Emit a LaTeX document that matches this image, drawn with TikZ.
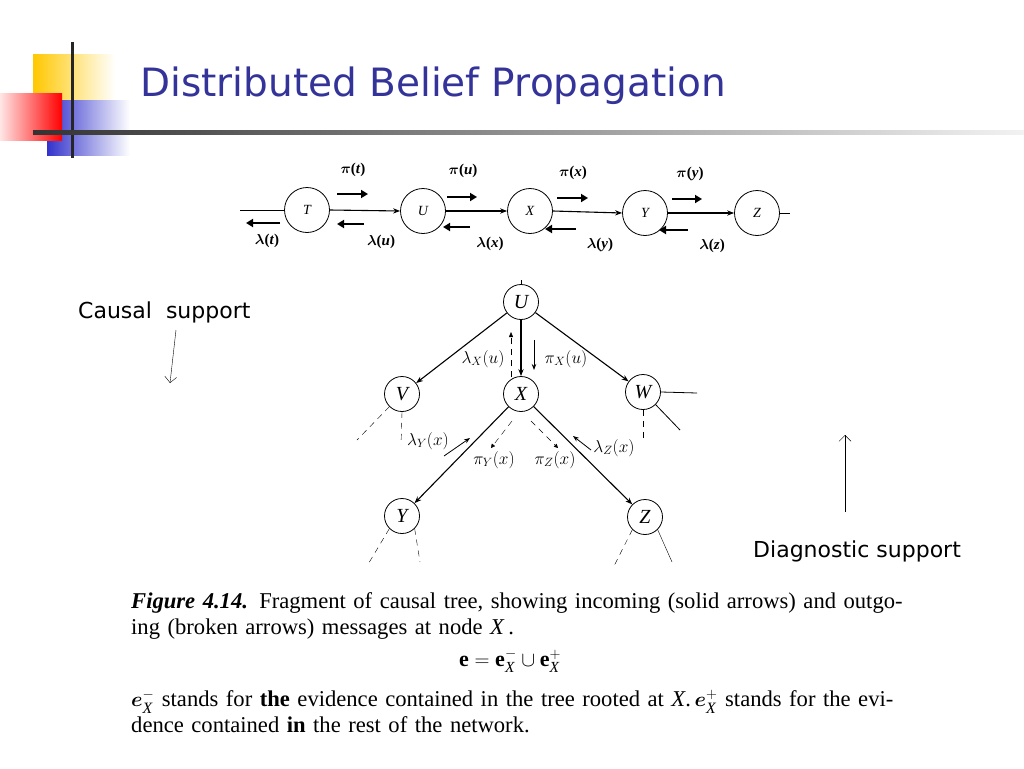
\documentclass[tikz,border=0pt]{standalone}
\usepackage{fontspec}
\usepackage{amsmath}
\setmainfont{Liberation Serif}
\newfontfamily\titlefont{DejaVu Sans}
\usetikzlibrary{arrows.meta,shadings}
\definecolor{titleblue}{RGB}{51,51,153}
\definecolor{logoyellow}{RGB}{255,200,0}
\definecolor{logoblue}{RGB}{51,51,204}
\begin{document}
\begin{tikzpicture}[x=1pt,y=-1pt,
  cnode/.style={circle,draw,thick,minimum size=45pt,inner sep=0pt,font=\itshape\fontsize{14}{14}\selectfont},
  tnode/.style={circle,draw,thick,minimum size=35pt,inner sep=0pt,font=\itshape\fontsize{20}{20}\selectfont},
  edge/.style={semithick,line width=1.1pt,-{Stealth[length=7pt]}},
  msg/.style={line width=2.2pt,-{Triangle[length=7pt,width=8pt]}},
  lab/.style={font=\bfseries\fontsize{15}{15}\selectfont,inner sep=0pt},
  tlab/.style={font=\fontsize{18}{18}\selectfont,inner sep=0pt},
  brk/.style={thin,dash pattern=on 6pt off 5pt},
  side/.style={font=\titlefont\fontsize{22}{22}\selectfont,anchor=west,inner sep=0pt}]
\useasboundingbox (0,0) rectangle (1024,768);
\fill[white] (0,0) rectangle (1024,768);
% logo
\shade[left color=logoyellow,right color=white] (33,55) rectangle (115,105);
\shade[left color=logoblue,right color=white] (47,100) rectangle (130,155);
\shade[left color=red!10,right color=red] (0,93) rectangle (62,140);
\draw[line width=3pt,black!85] (72,42) -- (72,158);
\shade[left color=black!80,right color=black!5] (33,130.5) rectangle (1024,134);
\node[anchor=west,inner sep=0pt,font=\titlefont\fontsize{39}{39}\selectfont,text=titleblue] (title) at (140,86) {Distributed Belief Propagation};
% chain
\node[cnode] (T) at (307,210) {T};
\node[cnode] (U) at (423,211) {U};
\node[cnode] (X) at (530,211) {X};
\node[cnode] (Y) at (645,213) {Y};
\node[cnode] (Z) at (757,213) {Z};
\coordinate (l0) at (240,210); \coordinate (r0) at (790,213);
\draw[thick] (l0) -- (T.west);
\draw[thick] (Z.east) -- (r0);
\draw[edge] (T.east) -- (U.west);
\draw[edge] (U.east) -- (X.west);
\draw[edge] (X.east) -- (Y.west);
\draw[edge] (Y.east) -- (Z.west);
\foreach \a/\b/\y in {337/368/194, 447/477/197, 557/588/198, 672/702/199}
  \draw[msg] (\a,\y) -- (\b,\y);
\foreach \a/\b/\y in {280/246/223, 364/337/224, 470/443/227, 576/545/229, 688/659/230}
  \draw[msg] (\a,\y) -- (\b,\y);
\node[lab] (pt) at (353,170) {$\boldsymbol{\pi}$(\textit{t})};
\node[lab] (pu) at (463,171) {$\boldsymbol{\pi}$(\textit{u})};
\node[lab] (px) at (573,173) {$\boldsymbol{\pi}$(\textit{x})};
\node[lab] (py) at (690,174) {$\boldsymbol{\pi}$(\textit{y})};
\node[lab] (lt) at (267,241) {$\boldsymbol{\lambda}$(\textit{t})};
\node[lab] (lu) at (381,242) {$\boldsymbol{\lambda}$(\textit{u})};
\node[lab] (lx) at (490,244) {$\boldsymbol{\lambda}$(\textit{x})};
\node[lab] (ly) at (600,245) {$\boldsymbol{\lambda}$(\textit{y})};
\node[lab] (lz) at (712,246) {$\boldsymbol{\lambda}$(\textit{z})};
% tree
\node[tnode] (tU) at (521,302) {U};
\node[tnode] (tV) at (402,394) {V};
\node[tnode] (tX) at (521,394) {X};
\node[tnode] (tW) at (643,392) {W};
\node[tnode] (tY) at (402,516) {Y};
\node[tnode] (tZ) at (645,517) {Z};
\draw[edge] (tU) -- (tV);
\draw[edge] (tU) -- (tX);
\draw[edge] (tU) -- (tW);
\draw[edge] (tX) -- (tY);
\draw[edge] (tX) -- (tZ);
\coordinate (u0) at (521,280);
\draw[thin] (tU.north) -- (u0);
\coordinate (w1) at (697,393); \coordinate (w2) at (680,430); \coordinate (w3) at (643,442);
\draw[thick] (tW.east) -- (w1);
\draw[thick] (tW.south east) -- (w2);
\draw[brk] (tW.south) -- (w3);
\coordinate (v1) at (357,440); \coordinate (v2) at (401,445);
\draw[brk] (tV.south west) -- (v1);
\draw[brk] (tV.south) -- (v2);
\coordinate (y1) at (367,566); \coordinate (y2) at (420,562);
\draw[brk] (tY.south west) -- (y1);
\draw[brk] (tY.south east) -- (y2);
\coordinate (z1) at (614,566); \coordinate (z2) at (672,562);
\draw[brk] (tZ.south west) -- (z1);
\draw[thin] (tZ.south east) -- (z2);
% messages
\coordinate (a1) at (511,377); \coordinate (a2) at (511,332);
\draw[brk,-{Triangle[length=5pt,width=4pt]}] (a1) -- (a2);
\coordinate (b1) at (534,340); \coordinate (b2) at (534,370);
\draw[thick,-{Stealth[length=6pt]}] (b1) -- (b2);
\coordinate (c1) at (444,456); \coordinate (c2) at (470,438);
\draw[thick,-{Stealth[length=6pt]}] (c1) -- (c2);
\coordinate (d1) at (591,450); \coordinate (d2) at (573,436);
\draw[thick,-{Stealth[length=6pt]}] (d1) -- (d2);
\coordinate (e1) at (512,421); \coordinate (e2) at (491,448);
\draw[brk,-{Triangle[length=4pt,width=4pt]}] (e1) -- (e2);
\coordinate (f1) at (531,421); \coordinate (f2) at (558,448);
\draw[brk,-{Triangle[length=4pt,width=4pt]}] (f1) -- (f2);
\node[tlab] (mlu) at (483,359) {$\lambda_X(u)$};
\node[tlab] (mpu) at (566,359) {$\pi_X(u)$};
\node[tlab] (mly) at (428,441) {$\lambda_Y(x)$};
\node[tlab] (mpy) at (494,460) {$\pi_Y(x)$};
\node[tlab] (mpz) at (555,460) {$\pi_Z(x)$};
\node[tlab] (mlz) at (614,448) {$\lambda_Z(x)$};
% side notes
\node[side] (cs) at (78,312) {Causal\ \ support};
\coordinate (cs1) at (176,330); \coordinate (cs2) at (170,383);
\draw[thin,-{Straight Barb[length=6pt]}] (cs1) -- (cs2);
\node[side] (ds) at (753,551) {Diagnostic support};
\coordinate (ds1) at (845,512); \coordinate (ds2) at (845,435);
\draw[thin,-{Straight Barb[length=6pt]}] (ds1) -- (ds2);
% caption
\node[anchor=north west,inner sep=0pt,text width=800pt,font=\fontsize{22.6}{26}\selectfont,align=left] (cap) at (131,592)
{\textbf{\textit{Figure 4.14.}} Fragment of causal tree, showing incoming (solid arrows) and outgo-\\ing (broken arrows) messages at node \textit{X}\,.};
\node[inner sep=0pt,font=\fontsize{22}{22}\selectfont] (eq) at (510,661) {$\mathbf{e} = \mathbf{e}_{\mathit{X}}^- \cup \mathbf{e}_{\mathit{X}}^+$};
\node[anchor=north west,inner sep=0pt,text width=800pt,font=\fontsize{22.6}{26}\selectfont,align=left] (cap2) at (131,690)
{$\boldsymbol{e}_{\mathit{X}}^-$ stands for \textbf{the} evidence contained in the tree rooted at \textit{X}.\,$\boldsymbol{e}_{\mathit{X}}^+$ stands for the evi-\\dence contained \textbf{in} the rest of the network.};
\end{tikzpicture}
\end{document}
